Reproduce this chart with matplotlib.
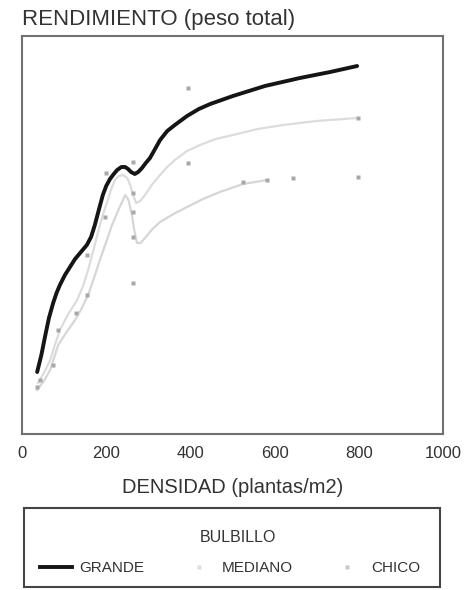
import matplotlib
matplotlib.use("Agg")
import matplotlib.pyplot as plt
from matplotlib.lines import Line2D
from matplotlib.patches import Rectangle

plt.rcParams['font.family'] = ['Liberation Sans', 'DejaVu Sans']

# curvas ajustadas (densidad, rendimiento)
grande_x = [36, 46, 55, 64, 74, 82, 90, 102, 114, 126, 138, 154, 164, 173, 183, 192,
            200, 209, 218, 226, 236, 245, 252, 259, 268, 276, 285, 294, 304, 316,
            328, 345, 363, 392, 420, 447, 501, 577, 660, 732, 796]
grande_y = [6.2, 7.9, 9.8, 11.6, 13.1, 14.1, 14.9, 15.9, 16.7, 17.5, 18.1, 18.9, 19.7,
            20.9, 22.5, 23.9, 24.8, 25.5, 26.0, 26.4, 26.7, 26.7, 26.5, 26.2, 26.0,
            26.2, 26.6, 27.1, 27.6, 28.5, 29.4, 30.3, 30.9, 31.8, 32.5, 33.0, 33.8,
            34.8, 35.6, 36.2, 36.8]

mediano_x = [38, 52, 67, 78, 90, 110, 131, 145, 157, 171, 185, 195, 204, 212, 221,
             230, 240, 250, 257, 264, 271, 281, 292, 310, 328, 345, 363, 392, 423,
             460, 501, 560, 620, 700, 796]
mediano_y = [5.1, 6.1, 7.4, 8.9, 10.4, 12.0, 13.4, 14.8, 16.4, 18.6, 20.9, 22.3,
             23.4, 24.5, 25.4, 25.8, 25.9, 25.6, 24.9, 23.9, 23.1, 23.3, 23.9, 25.0,
             25.9, 26.7, 27.4, 28.3, 28.9, 29.5, 29.9, 30.5, 30.9, 31.3, 31.6]

chico_x = [36, 52, 67, 76, 86, 106, 126, 141, 157, 171, 185, 200, 214, 230, 245,
           253, 261, 267, 273, 282, 292, 310, 328, 360, 392, 430, 470, 525, 582]
chico_y = [4.4, 5.3, 6.4, 7.6, 8.9, 10.2, 11.4, 12.5, 13.9, 15.6, 17.4, 19.2, 20.9,
           22.5, 23.9, 23.4, 21.9, 20.3, 19.1, 19.1, 19.6, 20.5, 21.2, 22.0, 22.7,
           23.5, 24.2, 25.0, 25.4]

# observaciones
obs_x = [36, 43, 74, 86, 128, 154, 154, 197, 200, 264, 264, 264, 264, 264,
         394, 394, 525, 582, 644, 798, 798]
obs_y = [4.7, 5.4, 6.9, 10.4, 12.1, 13.9, 17.9, 21.7, 26.1, 27.2, 24.1, 22.2, 19.7, 15.1,
         34.6, 27.1, 25.2, 25.4, 25.6, 25.7, 31.6]

xticks = [0, 200, 400, 600, 800, 1000]
series = ['GRANDE', 'MEDIANO', 'CHICO']

fig = plt.figure(figsize=(4.71, 5.90), dpi=100)
ax = fig.add_axes([22/471, 1 - 434/590, 421/471, 398/590])

ax.plot(chico_x, chico_y, color='#d6d6d6', lw=1.6, solid_joinstyle='round')
ax.plot(mediano_x, mediano_y, color='#dcdcdc', lw=1.6, solid_joinstyle='round')
ax.plot(obs_x, obs_y, ls='none', marker='s', ms=2.5, color='#a8a8a8', mec='none')
ax.plot(grande_x, grande_y, color='#151515', lw=2.8, solid_joinstyle='round',
        solid_capstyle='round')

ax.set_xlim(0, 1000)
ax.set_ylim(0, 39.8)
ax.set_xticks(xticks)
ax.set_yticks([])
ax.tick_params(axis='x', length=0, pad=9, labelsize=12, colors='#333333')
for s in ax.spines.values():
    s.set_color('#707070')
    s.set_linewidth(1.5)

ax.set_xlabel('DENSIDAD (plantas/m2)', fontsize=14.5, color='#333333', labelpad=12)
fig.text(22/471, 1 - 19/590, 'RENDIMIENTO (peso total)', fontsize=16,
         color='#333333', ha='left', va='center')

# leyenda con marco propio
fig.patches.append(Rectangle((24/471, 3/590), 416/471, 79/590,
                             transform=fig.transFigure, fill=False,
                             edgecolor='#444444', linewidth=1.5))
fig.text(238/471, 1 - 537/590, 'BULBILLO', fontsize=11.5, color='#333333',
         ha='center', va='center')
handles = [Line2D([], [], color='#151515', lw=2.8),
           Line2D([], [], ls='none', marker='s', ms=2.5, color='#dcdcdc', mec='none'),
           Line2D([], [], ls='none', marker='s', ms=2.5, color='#c8c8c8', mec='none')]
leg = fig.legend(handles, series, loc='center left',
                 bbox_to_anchor=(40/471, 1 - 568/590, 380/471, 0),
                 mode='expand', ncol=3, fontsize=11, frameon=False,
                 handlelength=2.1, handletextpad=0.5, borderaxespad=0, borderpad=0)
for t in leg.get_texts():
    t.set_color('#333333')

fig.savefig('out.png', dpi=100)
